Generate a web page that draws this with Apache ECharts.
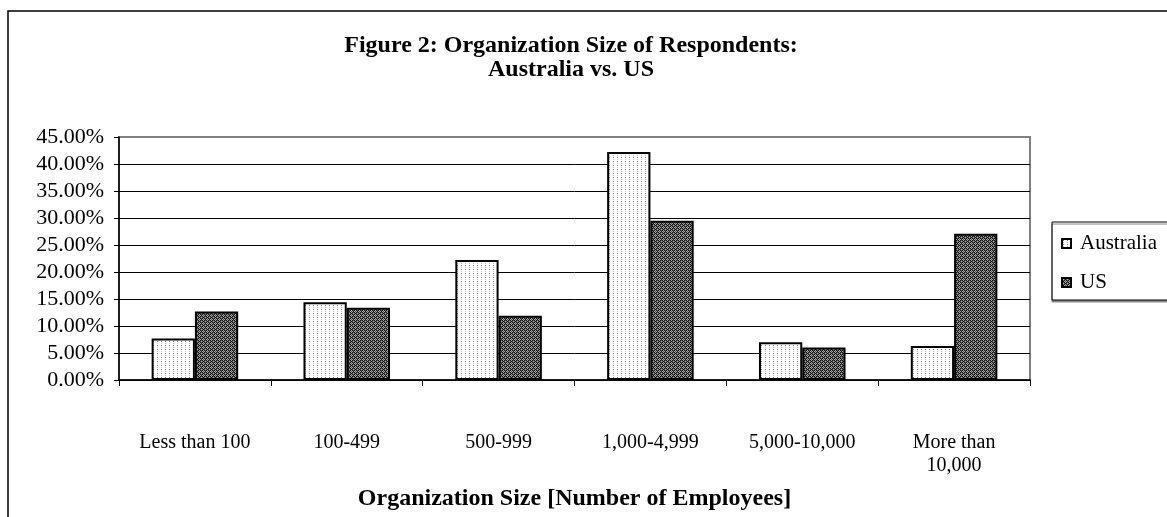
<!DOCTYPE html>
<html>
<head>
<meta charset="utf-8">
<script src="https://cdn.jsdelivr.net/npm/echarts@6/dist/echarts.min.js"></script>
<style>
html,body{margin:0;padding:0;background:#fff;}
#chart{width:1167px;height:517px;}
</style>
</head>
<body>
<div id="chart"></div>
<script>
// ---- data ----
const categories = ['Less than 100', '100-499', '500-999', '1,000-4,999', '5,000-10,000', 'More than\n10,000'];
const australia = [7.7, 14.4, 22.2, 42.2, 7.0, 6.3];
const us = [12.7, 13.4, 11.9, 29.5, 6.0, 27.1];
const yTicks = { min: 0, max: 45, interval: 5 };

const FONT = "'Liberation Serif', 'Times New Roman', serif";

function makePattern(grid, palette) {
  const n = grid.length, m = grid[0].length;
  const c = document.createElement('canvas');
  c.width = m; c.height = n;
  const ctx = c.getContext('2d');
  for (let y = 0; y < n; y++) for (let x = 0; x < m; x++) {
    ctx.fillStyle = palette[grid[y][x]];
    ctx.fillRect(x, y, 1, 1);
  }
  return { image: c, repeat: 'repeat' };
}
const dotPattern = makePattern([
  'WWWW',
  'WDWW',
  'WWWW',
  'WLWW'
], { W: '#ffffff', D: '#7a7a7a', L: '#c4c4c4' });
const hatchPattern = makePattern([
  'KGKL',
  'GLGK',
  'KGKL',
  'LKLG'
], { K: '#111111', G: '#555555', L: '#a8a8a8' });

const splitColors = [];
for (let v = yTicks.min; v <= yTicks.max; v += yTicks.interval) splitColors.push(v === yTicks.max ? '#808080' : '#000');

const chart = echarts.init(document.getElementById('chart'), null, { renderer: 'canvas' });
chart.setOption({
  backgroundColor: '#fff',
  animation: false,
  title: {
    text: 'Figure 2: Organization Size of Respondents:\nAustralia vs. US',
    left: 571, top: 34, textAlign: 'center', padding: 0,
    textStyle: { fontFamily: FONT, fontWeight: 'bold', fontSize: 24, lineHeight: 24, color: '#000' }
  },
  graphic: [{
    type: 'rect', silent: true, z: -1,
    shape: { x: 8, y: 11, width: 1400, height: 800 },
    style: { fill: 'none', stroke: '#000', lineWidth: 1.5 }
  }],
  legend: {
    orient: 'vertical', left: 1052, top: 222,
    padding: [11, 30, 7, 9], itemGap: 18, itemWidth: 9, itemHeight: 9,
    borderColor: '#000', borderWidth: 1, backgroundColor: '#fff',
    shadowColor: '#8a8a8a', shadowOffsetX: 0, shadowOffsetY: 2, shadowBlur: 0,
    textStyle: { fontFamily: FONT, fontSize: 21, lineHeight: 20, color: '#000', padding: [0, 0, 0, 4] },
    icon: 'rect',
    data: ['Australia', 'US']
  },
  grid: { left: 119, top: 137, right: 137, bottom: 137, show: true, borderColor: '#808080', borderWidth: 2 },
  xAxis: {
    type: 'category', data: categories,
    axisLine: { show: true, lineStyle: { color: '#000', width: 1.5 } },
    axisTick: { show: true, alignWithLabel: false, length: 6, lineStyle: { color: '#000' } },
    axisLabel: { fontFamily: FONT, fontSize: 20, lineHeight: 23, color: '#000', margin: 51, interval: 0 },
    name: 'Organization Size [Number of Employees]',
    nameLocation: 'middle', nameGap: 107,
    nameTextStyle: { fontFamily: FONT, fontWeight: 'bold', fontSize: 24, color: '#000' }
  },
  yAxis: {
    type: 'value', min: yTicks.min, max: yTicks.max, interval: yTicks.interval,
    axisLine: { show: true, lineStyle: { color: '#000', width: 1.5 } },
    axisTick: { show: true, length: 5, lineStyle: { color: '#000' } },
    axisLabel: { fontFamily: FONT, fontSize: 22, color: '#000', margin: 15, formatter: v => v.toFixed(2) + '%' },
    splitLine: { show: true, lineStyle: { color: splitColors, width: 1 } }
  },
  series: [
    { name: 'Australia', type: 'bar', data: australia, barGap: '0%', barCategoryGap: '43%',
      itemStyle: { color: dotPattern, borderColor: '#000', borderWidth: 2 } },
    { name: 'US', type: 'bar', data: us, barGap: '0%', barCategoryGap: '43%',
      itemStyle: { color: hatchPattern, borderColor: '#000', borderWidth: 2 } }
  ]
});
</script>
</body>
</html>
